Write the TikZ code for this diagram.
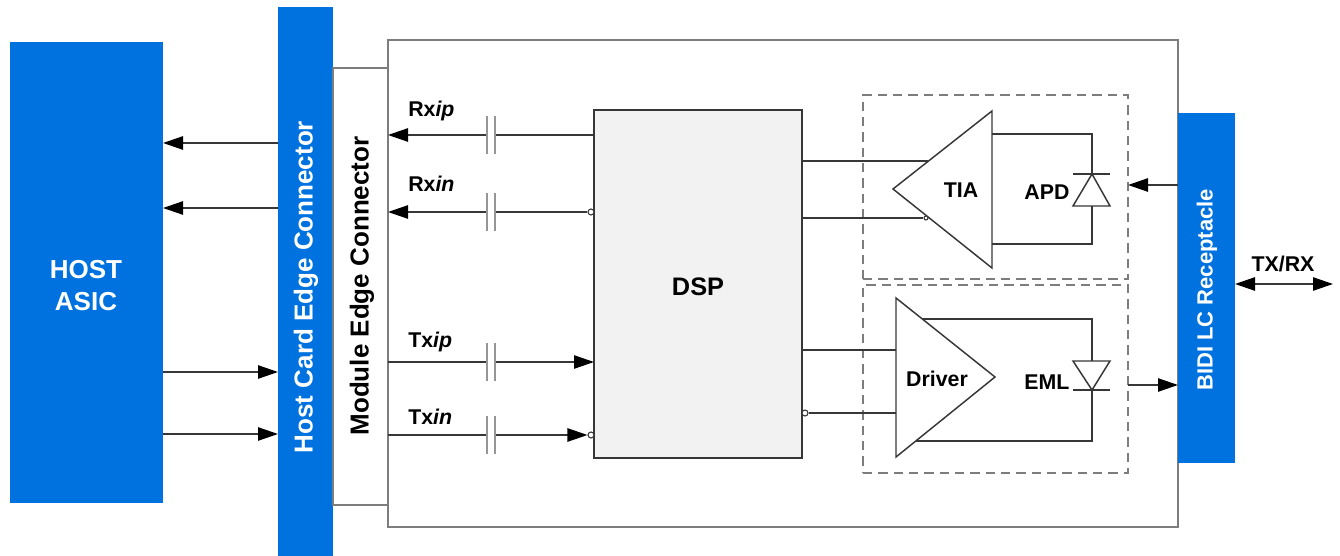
\documentclass[tikz,border=0pt]{standalone}
\usepackage{fontspec}
\setmainfont{Liberation Sans}
\usetikzlibrary{arrows.meta,calc}
\definecolor{hblue}{RGB}{0,114,224}
\definecolor{wire}{RGB}{55,55,55}
\definecolor{frame}{RGB}{125,125,125}
\definecolor{capc}{RGB}{150,150,150}
\definecolor{dspfill}{RGB}{242,242,242}
\begin{document}
\begin{tikzpicture}[x=0.75pt,y=-0.75pt,
  box/.style={rectangle,inner sep=0pt,outer sep=0pt},
  bluebar/.style={box,fill=hblue,draw=none},
  wline/.style={draw=wire,line width=1.1pt},
  arr/.style={wline,-{Triangle[length=15pt,width=10pt,color=black]}},
  dbl/.style={wline,{Triangle[length=15pt,width=10pt,color=black]}-{Triangle[length=15pt,width=10pt,color=black]}},
  capplate/.style={draw=capc,line width=1.5pt},
  dashbox/.style={box,draw=frame,line width=1.4pt,dash pattern=on 7pt off 4.5pt},
  bubble/.style={circle,draw=wire,fill=white,line width=0.8pt,inner sep=0pt,minimum size=4.5pt},
  lbl/.style={font=\fontsize{16}{19}\selectfont\bfseries,text=black,inner sep=0pt},
  wlbl/.style={font=\fontsize{16.5}{19}\selectfont\bfseries,text=white,inner sep=0pt}]
\useasboundingbox (0,0) rectangle (1340,556);

% blocks
\node[bluebar,minimum width=153*0.75pt,minimum height=461*0.75pt] (asic) at (86.5,272.5) {};
\node[font=\fontsize{19.5}{24}\selectfont\bfseries,text=white,align=center] (asiclbl) at (86,286) {HOST\\ASIC};
\node[bluebar,minimum width=55*0.75pt,minimum height=560*0.75pt] (hcec) at (305.5,287) {};
\node[wlbl,font=\fontsize{19.5}{23}\selectfont\bfseries,rotate=90] (hceclbl) at (306,287) {Host Card Edge Connector};
\node[box,draw=frame,line width=1.1pt,fill=white,minimum width=790*0.75pt,minimum height=487*0.75pt] (module) at (783,283.5) {};
\node[box,draw=frame,line width=1.1pt,fill=white,minimum width=55*0.75pt,minimum height=437*0.75pt] (mec) at (360.5,286.5) {};
\node[lbl,font=\fontsize{19.5}{23}\selectfont\bfseries,rotate=90] (meclbl) at (362,286) {Module Edge Connector};
\node[box,draw=wire,line width=1.1pt,fill=dspfill,minimum width=208*0.75pt,minimum height=348*0.75pt] (dsp) at (698,284) {};
\node[lbl,font=\fontsize{19}{22}\selectfont\bfseries] (dsplbl) at (698,287) {DSP};
\node[dashbox,minimum width=265*0.75pt,minimum height=184*0.75pt] (rxbox) at (995.5,187) {};
\node[dashbox,minimum width=265*0.75pt,minimum height=188*0.75pt] (txbox) at (995.5,379) {};
\node[bluebar,minimum width=57*0.75pt,minimum height=350*0.75pt] (bidi) at (1206.5,288) {};
\node[wlbl,rotate=90] (bidilbl) at (1207,290) {BIDI LC Receptacle};

% host side arrows
\foreach \yy in {143,208}{\draw[arr] (hcec.west |- 0,\yy) -- (asic.east |- 0,\yy);}
\foreach \yy in {372,434}{\draw[arr] (asic.east |- 0,\yy) -- (hcec.west |- 0,\yy);}

% capacitor coordinates
\coordinate (cl) at (487,0);
\coordinate (cr) at (495,0);

% Rx lines
\draw[wline] (dsp.west |- 0,135) -- (cr |- 0,135);
\draw[arr] (cl |- 0,135) -- (module.west |- 0,135);
\node[bubble] (rxnb) at (591,212) {};
\draw[wline] (rxnb.west) -- (cr |- 0,212);
\draw[arr] (cl |- 0,212) -- (module.west |- 0,212);
% Tx lines
\draw[wline] (module.west |- 0,362) -- (cl |- 0,362);
\draw[arr] (cr |- 0,362) -- (dsp.west |- 0,362);
\node[bubble] (txnb) at (591,435) {};
\draw[wline] (module.west |- 0,435) -- (cl |- 0,435);
\draw[arr] (cr |- 0,435) -- (txnb.west);
% capacitor plates
\foreach \yy in {135,212,362,435}{
  \draw[capplate] ($(cl |- 0,\yy)+(0,-19)$) -- ($(cl |- 0,\yy)+(0,19)$);
  \draw[capplate] ($(cr |- 0,\yy)+(0,-19)$) -- ($(cr |- 0,\yy)+(0,19)$);
}
\node[lbl,anchor=base west] (rxiplbl) at (408,117) {Rx\textit{ip}};
\node[lbl,anchor=base west] (rxinlbl) at (408,192) {Rx\textit{in}};
\node[lbl,anchor=base west] (txiplbl) at (408,348) {Tx\textit{ip}};
\node[lbl,anchor=base west] (txinlbl) at (408,424) {Tx\textit{in}};

% TIA
\coordinate (tiaA) at (893,189);
\coordinate (tiaT) at (992,111);
\coordinate (tiaB) at (992,268);
\draw[wline,fill=white] (tiaA) -- (tiaT) -- (tiaB) -- cycle;
\node[lbl] (tialbl) at (961,190) {TIA};
\coordinate (tiain1) at (928,161);
\node[bubble,minimum size=3pt] (tiain2) at (926,218) {};
\draw[wline] (dsp.east |- tiain1) -- (tiain1);
\draw[wline] (dsp.east |- tiain2) -- (tiain2.west);
% APD
\coordinate (apdK) at (1092,174);
\coordinate (apdA) at (1092,206);
\draw[wline] (tiaT |- 0,134) -- (1092,134) -- (apdK);
\draw[wline] (tiaT |- 0,244) -- (1092,244) -- (apdA);
\draw[wline] (1073,174) -- (1110,174);
\draw[wline] (apdK) -- (1073,206) -- (1110,206) -- cycle;
\node[lbl] (apdlbl) at (1047,192) {APD};

% Driver
\coordinate (drvT) at (896,298);
\coordinate (drvB) at (896,457);
\coordinate (drvA) at (995,377);
\draw[wline,fill=white] (drvT) -- (drvA) -- (drvB) -- cycle;
\node[lbl] (drvlbl) at (937,379) {Driver};
\node[bubble] (drvnb) at (805,413) {};
\draw[wline] (dsp.east |- 0,350) -- (drvT |- 0,350);
\draw[wline] (drvnb.east) -- (drvT |- 0,413);
% EML
\coordinate (emlA) at (1092,361);
\coordinate (emlK) at (1092,390);
\draw[wline] (922,319) -- (1092,319) -- (emlA);
\draw[wline] (emlK) -- (1092,441) -- (916,441);
\draw[wline] (1073,361) -- (1110,361) -- (emlK) -- cycle;
\draw[wline] (1073,390) -- (1110,390);
\node[lbl] (emllbl) at (1047,382) {EML};

% BIDI arrows
\draw[arr] (bidi.west |- 0,185) -- (rxbox.east |- 0,185);
\draw[arr] (txbox.east |- 0,385) -- (bidi.west |- 0,385);
\coordinate (fiber) at (1333,284);
\draw[dbl] (bidi.east |- fiber) -- (fiber);
\node[lbl] (txrxlbl) at (1283,264) {TX/RX};
\end{tikzpicture}
\end{document}
